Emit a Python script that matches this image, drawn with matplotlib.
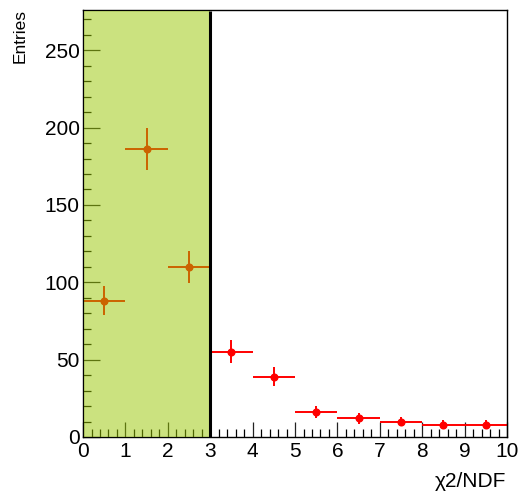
import numpy as np
import matplotlib
matplotlib.use("Agg")
import matplotlib.pyplot as plt
from matplotlib.ticker import MultipleLocator

plt.rcParams['font.family'] = ['Liberation Sans', 'DejaVu Sans']

# === Histogram contents (chi2/NDF, 1-wide bins) ===
bin_edges = [0, 1, 2, 3, 4, 5, 6, 7, 8, 9, 10]
counts = [88, 186, 110, 55, 39, 16, 12, 10, 8, 8]
cut_value = 3.0

edges = np.array(bin_edges, dtype=float)
centers = 0.5 * (edges[:-1] + edges[1:])
half_w = 0.5 * np.diff(edges)
y = np.array(counts, dtype=float)
yerr = np.sqrt(y)

W, H = 519, 494
fig = plt.figure(figsize=(W / 100, H / 100), dpi=100)
ax = fig.add_axes([0.160, 0.1154, 0.817, 0.8644])

ax.errorbar(centers, y, xerr=half_w, yerr=yerr, fmt='o', color='red',
            markersize=4.8, elinewidth=1.4, capsize=0, zorder=2)

ymax = 276
ax.set_xlim(0, 10)
ax.set_ylim(0, ymax)

# accepted region, semi-transparent so ticks and points show through
ax.axvspan(0.02, cut_value, ymin=0, ymax=0.997, facecolor=(0.6, 0.78, 0.0),
           alpha=0.5, edgecolor='none', zorder=3)
ax.plot([cut_value, cut_value], [0, ymax * 0.997], color='black', lw=2.2,
        zorder=4, solid_capstyle='butt')

# ROOT-like axes: inward ticks on bottom/left only
ax.xaxis.set_major_locator(MultipleLocator(1))
ax.xaxis.set_minor_locator(MultipleLocator(0.2))
ax.yaxis.set_major_locator(MultipleLocator(50))
ax.yaxis.set_minor_locator(MultipleLocator(10))
ax.tick_params(axis='x', which='major', direction='in', length=11, width=0.9,
               labelsize=15, pad=3.5)
ax.tick_params(axis='x', which='minor', direction='in', length=5.5, width=0.9)
ax.tick_params(axis='y', which='major', direction='in', length=12, width=0.9,
               labelsize=15, pad=2.5)
ax.tick_params(axis='y', which='minor', direction='in', length=6, width=0.9)
ax.tick_params(colors='#222222', labelcolor='black')
for s in ax.spines.values():
    s.set_linewidth(1.0)

# axis titles placed in figure pixels
fig.text(506 / W, 1 - 487 / H, "χ2/NDF", fontsize=15, ha='right', va='baseline')
fig.text(20 / W, 1 - 9 / H, "Entries", fontsize=12.5, rotation=90,
         ha='center', va='top')

fig.savefig("out.png", dpi=100)
